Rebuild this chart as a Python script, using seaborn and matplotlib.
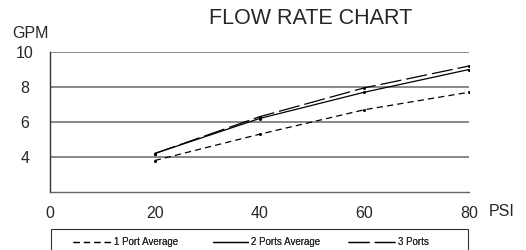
import pandas as pd
import matplotlib
matplotlib.use("Agg")
import matplotlib.pyplot as plt
from matplotlib.lines import Line2D
from matplotlib.patches import Rectangle
import seaborn as sns

# values
psi = [20, 40, 60, 80]
one_port = [3.8, 5.3, 6.7, 7.7]
two_ports = [4.2, 6.2, 7.7, 9.0]
three_ports = [4.2, 6.3, 7.95, 9.2]
series_names = ["1 Port Average", "2 Ports Average", "3 Ports"]

df = pd.concat([
    pd.DataFrame({"PSI": psi, "GPM": vals, "series": name})
    for name, vals in zip(series_names, [one_port, two_ports, three_ports])
], ignore_index=True)

dash_styles = {"1 Port Average": (5, 3.3), "2 Ports Average": "",
               "3 Ports": (17, 4)}

sns.set_style("white")
plt.rcParams["font.family"] = ["Liberation Sans", "DejaVu Sans"]

fig = plt.figure(figsize=(5.26, 2.5), dpi=100)
ax = fig.add_axes([50 / 526, 1 - 192 / 250, 419 / 526, 140 / 250])

sns.lineplot(data=df, x="PSI", y="GPM", hue="series", style="series",
             palette=["black"] * 3, dashes=dash_styles,
             markers={n: "o" for n in series_names}, markersize=2.2,
             markeredgewidth=0, linewidth=0.9, ax=ax, legend=False)

ax.set_xlim(0, 80)
ax.set_ylim(2, 10)
ax.set_yticks([4, 6, 8, 10])
ax.set_xticks([0, 20, 40, 60, 80])
ax.yaxis.grid(True, color="#7f7f7f", linewidth=1.3)
ax.set_axisbelow(True)
for side in ["top", "right"]:
    ax.spines[side].set_visible(False)
ax.spines["left"].set_color("#333333")
ax.spines["bottom"].set_color("#666666")
ax.spines["left"].set_linewidth(1.0)
ax.spines["bottom"].set_linewidth(1.0)
ax.tick_params(axis="x", direction="in", length=4, width=0.9, color="#555555",
               pad=10, labelsize=11.5)
ax.tick_params(axis="y", length=0, pad=18, labelsize=11.5)
for lab in ax.get_yticklabels():
    lab.set_horizontalalignment("center")
ax.set_xlabel("")
ax.set_ylabel("")

fig.text(12 / 526, 1 - 33 / 250, "GPM", fontsize=11.5, va="center", ha="left")
fig.text(489 / 526, 1 - 211 / 250, "PSI", fontsize=11.5, va="center", ha="left")
fig.text(311 / 526, 1 - 19 / 250, "FLOW RATE CHART", fontsize=15.5,
         ha="center", va="center")

# legend: one entry at a time so each sits where it does in the reference,
# no markers, box running past the bottom edge
entry_x = [73, 213, 348]
handle_len = [3.9, 3.6, 4.8]
for name, x0, hl in zip(series_names, entry_x, handle_len):
    d = dash_styles[name]
    if d:
        h = Line2D([], [], color="black", lw=0.9, dashes=d)
    else:
        h = Line2D([], [], color="black", lw=0.9, linestyle="-")
    leg = fig.legend([h], [name], loc="center left",
                     bbox_to_anchor=(x0 / 526, 1 - 242 / 250),
                     fontsize=7, frameon=False, handlelength=hl,
                     handletextpad=0.3, borderpad=0.0, borderaxespad=0.0)
    fig.add_artist(leg)
fig.add_artist(Rectangle((51 / 526, -0.05), 417 / 526, 0.05 + 1 - 229 / 250,
                         transform=fig.transFigure, fill=False,
                         edgecolor="#333333", linewidth=0.8))

fig.savefig("out.png", dpi=100)
